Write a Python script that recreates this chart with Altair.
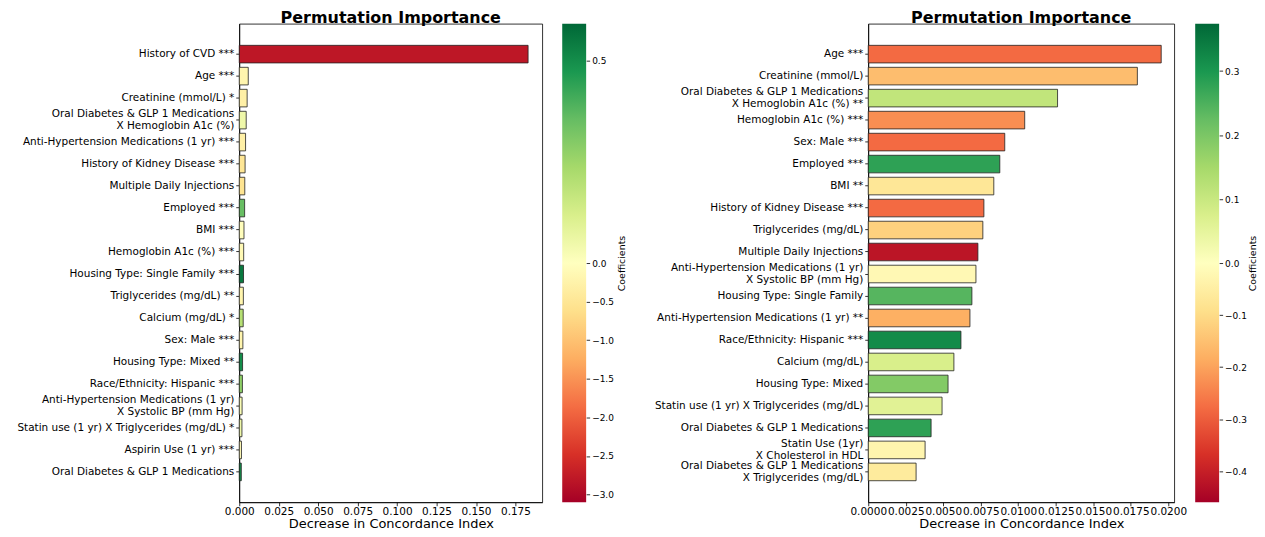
import altair as alt
import pandas as pd

# ---------------- data (left panel) ----------------
labels_left = [
    "History of CVD ***",
    "Age ***",
    "Creatinine (mmol/L) *",
    "Oral Diabetes & GLP 1 Medications\nX Hemoglobin A1c (%)",
    "Anti-Hypertension Medications (1 yr) ***",
    "History of Kidney Disease ***",
    "Multiple Daily Injections",
    "Employed ***",
    "BMI ***",
    "Hemoglobin A1c (%) ***",
    "Housing Type: Single Family ***",
    "Triglycerides (mg/dL) **",
    "Calcium (mg/dL) *",
    "Sex: Male ***",
    "Housing Type: Mixed **",
    "Race/Ethnicity: Hispanic ***",
    "Anti-Hypertension Medications (1 yr)\nX Systolic BP (mm Hg)",
    "Statin use (1 yr) X Triglycerides (mg/dL) *",
    "Aspirin Use (1 yr) ***",
    "Oral Diabetes & GLP 1 Medications",
]
imp_left = [0.183, 0.0057, 0.0050, 0.0044, 0.0040, 0.0037, 0.0035, 0.0034, 0.0030, 0.0028,
            0.0027, 0.0026, 0.0025, 0.0023, 0.0021, 0.0020, 0.0018, 0.0017, 0.0014, 0.0013]
coef_left = [-2.8, -0.2, -0.3, 0.05, -0.3, -0.5, -0.55, 0.35, -0.05, -0.12,
             0.55, -0.2, 0.2, -0.2, 0.5, 0.28, 0.02, 0.05, -0.1, 0.5]
xticks_left = [0.0, 0.025, 0.05, 0.075, 0.1, 0.125, 0.15, 0.175]
xmax_left = 0.192
cmin_left, cmax_left = -3.10, 0.59
cticks_left = [-3.0, -2.5, -2.0, -1.5, -1.0, -0.5, 0.0, 0.5]

# ---------------- data (right panel) ----------------
labels_right = [
    "Age ***",
    "Creatinine (mmol/L)",
    "Oral Diabetes & GLP 1 Medications\nX Hemoglobin A1c (%) **",
    "Hemoglobin A1c (%) ***",
    "Sex: Male ***",
    "Employed ***",
    "BMI **",
    "History of Kidney Disease ***",
    "Triglycerides (mg/dL)",
    "Multiple Daily Injections",
    "Anti-Hypertension Medications (1 yr)\nX Systolic BP (mm Hg)",
    "Housing Type: Single Family",
    "Anti-Hypertension Medications (1 yr) **",
    "Race/Ethnicity: Hispanic ***",
    "Calcium (mg/dL)",
    "Housing Type: Mixed",
    "Statin use (1 yr) X Triglycerides (mg/dL)",
    "Oral Diabetes & GLP 1 Medications",
    "Statin Use (1yr)\nX Cholesterol in HDL",
    "Oral Diabetes & GLP 1 Medications\nX Triglycerides (mg/dL)",
]
imp_right = [0.01953, 0.01794, 0.01262, 0.01043, 0.00910, 0.00877, 0.00837, 0.00771, 0.00764, 0.00731,
             0.00718, 0.00691, 0.00678, 0.00618, 0.00571, 0.00532, 0.00492, 0.00419, 0.00379, 0.00319]
coef_right = [-0.28, -0.156, 0.11, -0.23, -0.28, 0.28, -0.07, -0.28, -0.12, -0.42,
              -0.02, 0.24, -0.18, 0.32, 0.075, 0.19, 0.06, 0.28, -0.03, -0.06]
xticks_right = [0.0, 0.0025, 0.005, 0.0075, 0.01, 0.0125, 0.015, 0.0175, 0.02]
xmax_right = 0.0204
cmin_right, cmax_right = -0.46, 0.374
cticks_right = [-0.4, -0.3, -0.2, -0.1, 0.0, 0.1, 0.2, 0.3]

# RdYlGn colormap stops (matplotlib)
rdylgn = ["#a50026", "#d73027", "#f46d43", "#fdae61", "#fee08b", "#ffffbf",
          "#d9ef8b", "#a6d96a", "#66bd63", "#1a9850", "#006837"]

FONT = "DejaVu Sans"
PLOT_W = 304
PLOT_W_R = 307
PLOT_H = 480
CB_W = 24
LABEL_FS = 10.5
LINE_H = 11.5

multi_line_offset = {
    "condition": {"test": "indexof(datum.value, '\\n') >= 0", "value": -LINE_H / 2},
    "value": 0,
}


def norm_domain(vmin, vmax):
    # two-slope norm: centre 0 sits in the middle of the colormap
    neg = [vmin * (1 - i / 5) for i in range(5)]
    pos = [vmax * i / 5 for i in range(6)]
    return neg + pos


def bar_panel(labels, imp, coef, xmax, xticks, fmt, vmin, vmax, width):
    df = pd.DataFrame({"feature": labels, "importance": imp, "coef": coef})
    return alt.Chart(df).mark_bar(stroke="#222222", strokeWidth=0.8).encode(
        x=alt.X("importance:Q",
                scale=alt.Scale(domain=[0, xmax], nice=False, zero=True),
                axis=alt.Axis(values=xticks, format=fmt, title="Decrease in Concordance Index",
                              grid=False, labelFlush=False, labelOverlap=False,
                              labelPadding=1, titlePadding=0)),
        y=alt.Y("feature:N", sort=labels,
                scale=alt.Scale(paddingInner=0.2, paddingOuter=0.98),
                axis=alt.Axis(title=None, labelExpr="split(datum.label, '\\n')", labelPadding=2,
                              labelLimit=0, labelOffset=multi_line_offset)),
        color=alt.Color("coef:Q",
                        scale=alt.Scale(domain=norm_domain(vmin, vmax), range=rdylgn, interpolate="rgb"),
                        legend=None),
    ).properties(width=width, height=PLOT_H,
                 title=alt.Title("Permutation Importance", fontSize=16, font=FONT,
                                 fontWeight="bold", offset=-2))


def colorbar(vmin, vmax, ticks, title_pad):
    df = pd.DataFrame({"lo": [vmin], "hi": [vmax]})
    grad = alt.LinearGradient(
        gradient="linear", x1=0, x2=0, y1=1, y2=0,
        stops=[alt.GradientStop(offset=i / 10, color=c) for i, c in enumerate(rdylgn)],
    )
    return alt.Chart(df).mark_rect(color=grad).encode(
        y=alt.Y("lo:Q",
                scale=alt.Scale(domain=[vmin, 0, vmax], range=[PLOT_H, PLOT_H / 2, 0], nice=False, zero=False),
                axis=alt.Axis(orient="right", values=ticks, format=".1f", title="Coefficients",
                              titleAngle=270, titleBaseline="top", domain=False, grid=False,
                              labelFontSize=9, titleFontSize=9.5, titlePadding=title_pad,
                              labelFlush=False)),
        y2="hi:Q",
        x=alt.value(0),
        x2=alt.value(CB_W),
    ).properties(width=CB_W, height=PLOT_H,
                 title=alt.Title(" ", fontSize=16, font=FONT, fontWeight="bold", offset=-2),
                 view=alt.ViewBackground(strokeWidth=0))


left = alt.hconcat(
    bar_panel(labels_left, imp_left, coef_left, xmax_left, xticks_left, ".3f", cmin_left, cmax_left, PLOT_W),
    colorbar(cmin_left, cmax_left, cticks_left, 3),
    spacing=19,
)
right = alt.hconcat(
    bar_panel(labels_right, imp_right, coef_right, xmax_right, xticks_right, ".4f", cmin_right, cmax_right, PLOT_W_R),
    colorbar(cmin_right, cmax_right, cticks_right, 1),
    spacing=8,
)

chart = alt.hconcat(left, right, spacing=27).resolve_scale(
    color="independent", x="independent", y="independent"
).properties(
    padding={"left": 8, "right": 0, "top": 0, "bottom": 0}
).configure_view(
    stroke="black", strokeWidth=0.8
).configure_axis(
    labelFont=FONT, labelFontSize=LABEL_FS, labelColor="black",
    titleFont=FONT, titleFontSize=13, titleFontWeight="normal", titleColor="black",
    tickColor="black", tickSize=3.5, tickWidth=0.8,
    domainColor="black", domainWidth=0.8, labelLineHeight=LINE_H,
).configure_title(color="black", anchor="middle")

chart.save("out.html", embed_options={"renderer": "svg", "actions": False})
